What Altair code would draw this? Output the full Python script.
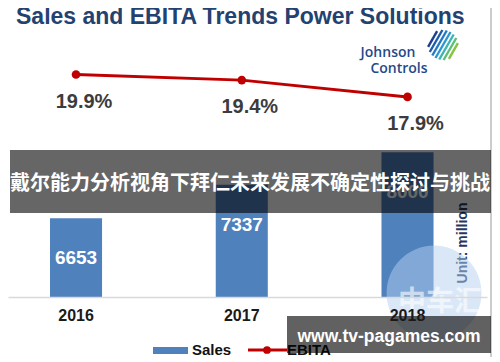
import math
import altair as alt
import pandas as pd

# ---- data ----
years = ["2016", "2017", "2018"]
sales = [6653, 7337, 8000]          # Sales, USD million
ebita = [19.9, 19.4, 17.9]          # EBITA margin, %

df = pd.DataFrame({"year": years, "sales": sales, "ebita": ebita})
df["ebita_label"] = [f"{v:.1f}%" for v in ebita]

one = pd.DataFrame({"k": [0]})
FONT = "Liberation Sans"

x_enc = alt.X(
    "year:N", title=None,
    scale=alt.Scale(paddingInner=0.686, paddingOuter=0.288, align=0.44),
    axis=alt.Axis(labelAngle=0, labelFont=FONT, labelFontSize=16,
                  labelFontWeight="bold", labelColor="#1a1a1a",
                  domainColor="#d9d9d9", domainWidth=1.5, ticks=False,
                  tickSize=0, labelPadding=10, grid=False, zindex=1),
)
sales_scale = alt.Scale(domain=[5040, 9890], zero=False, clamp=True)
ebita_scale = alt.Scale(domain=[0, 21.2])

base = alt.Chart(df)

bars = base.mark_bar(color="#4f81bd").encode(
    x=x_enc, y=alt.Y("sales:Q", scale=sales_scale, axis=None))

bar_text = base.mark_text(color="white", font=FONT, fontSize=19,
                          fontWeight="bold", dy=40, baseline="middle").encode(
    x=x_enc, y=alt.Y("sales:Q", scale=sales_scale, axis=None),
    text=alt.Text("sales:Q", format="d"))

line = base.mark_line(color="#c00000", strokeWidth=3,
                      point=alt.OverlayMarkDef(filled=True, size=75,
                                               color="#c00000")).encode(
    x=x_enc, y=alt.Y("ebita:Q", scale=ebita_scale, axis=None))

line_text = base.mark_text(color="#3c3c3c", font=FONT, fontSize=20,
                           fontWeight="bold", dx=8, dy=27,
                           baseline="middle").encode(
    x=x_enc, y=alt.Y("ebita:Q", scale=ebita_scale, axis=None),
    text="ebita_label:N")


def txt(text, x, y, **kw):
    return alt.Chart(one).mark_text(text=text, **kw).encode(
        x=alt.value(x), y=alt.value(y))


def box(x1, x2, y1, y2, **kw):
    return alt.Chart(one).mark_rect(**kw).encode(
        x=alt.value(x1), x2=alt.value(x2), y=alt.value(y1), y2=alt.value(y2))


def rule(x1, x2, y1, y2, **kw):
    return alt.Chart(one).mark_rule(**kw).encode(
        x=alt.value(x1), x2=alt.value(x2), y=alt.value(y1), y2=alt.value(y2))


title = txt("Sales and EBITA Trends Power Solutions", 8, -43, align="left",
            baseline="middle", font=FONT, fontSize=23, fontWeight="bold",
            color="#23426f")

logo1 = txt("Johnson", 380, -7, align="center", baseline="middle",
            font="Open Sans", fontSize=14, fontWeight=600, color="#1f4a8a")
logo2 = txt("Controls", 391, 9, align="center", baseline="middle",
            font="Open Sans", fontSize=14, fontWeight=600, color="#1f4a8a")

# Johnson Controls emblem: diagonal stripes clipped to a circle
swirl_cols = ["#1b3f8f", "#1f5cab", "#2479c4", "#2b98d0", "#3cb4b4",
              "#5cbf78", "#86c440"]
swirl = []
cx, cy, rad = 435, -15, 15
for i, c in enumerate(swirl_cols):
    d = -12 + i * 4
    half = math.sqrt(max(rad * rad - d * d, 4))
    px, py = cx + 0.866 * d, cy + 0.5 * d
    swirl.append(rule(px - 0.5 * half, px + 0.5 * half,
                      py + 0.866 * half, py - 0.866 * half,
                      color=c, strokeWidth=2.4))

unit = txt("Unit:  million", 455, 183, angle=270, align="center",
           baseline="middle", font=FONT, fontSize=14, fontWeight="bold",
           color="#1f3864")

wm_circle = alt.Chart(one).mark_circle(size=9000, color="#b3d0ef",
                                       opacity=0.5).encode(
    x=alt.value(426), y=alt.value(233))
wm_text = txt("中车汇", 432, 243, align="center", baseline="middle",
              font="Noto Sans CJK SC", fontSize=28, fontWeight="bold",
              color="white", opacity=0.6)

# legend
leg_rect = box(145, 180, 287, 294, color="#4f81bd")
leg_sales = txt("Sales", 184, 290, align="left", baseline="middle",
                font=FONT, fontSize=15, fontWeight="bold", color="#111111")
leg_line = rule(240, 279, 290, 290, color="#c00000", strokeWidth=3)
leg_dot = alt.Chart(one).mark_circle(size=60, color="#c00000",
                                     opacity=1).encode(
    x=alt.value(259), y=alt.value(290))
leg_ebita = txt("EBITA", 279, 290, align="left", baseline="middle",
                font=FONT, fontSize=15, fontWeight="bold", color="#111111")

border = rule(483, 483, -52, 297, color="#9a9a9a", strokeWidth=1)

# overlay banners
banner1 = box(2, 483, 90, 153, color="black", opacity=0.6)
banner1_t = txt("戴尔能力分析视角下拜仁未来发展不确定性探讨与挑战", 242, 124,
                align="center", baseline="middle", font="Noto Sans CJK SC",
                fontSize=20, fontWeight="bold", color="white")
banner2 = box(279, 483, 256, 293, color="black", opacity=0.62)
banner2_t = txt("www.tv-pagames.com", 381, 277, align="center",
                baseline="middle", font=FONT, fontSize=17.5,
                fontWeight="bold", color="white")

chart = alt.layer(
    bars, bar_text, line, line_text, title, logo1, logo2, *swirl, unit,
    wm_circle, wm_text, leg_rect, leg_sales, leg_line, leg_dot, leg_ebita,
    border, banner1, banner1_t, banner2, banner2_t,
).resolve_scale(y="independent").properties(
    width=479, height=237,
    autosize=alt.AutoSizeParams(type="none"),
    padding={"left": 0, "top": 52, "right": 5, "bottom": 62},
    background="white",
).configure_view(stroke=None)

chart.save("out.html", embed_options={"renderer": "svg", "actions": False})
